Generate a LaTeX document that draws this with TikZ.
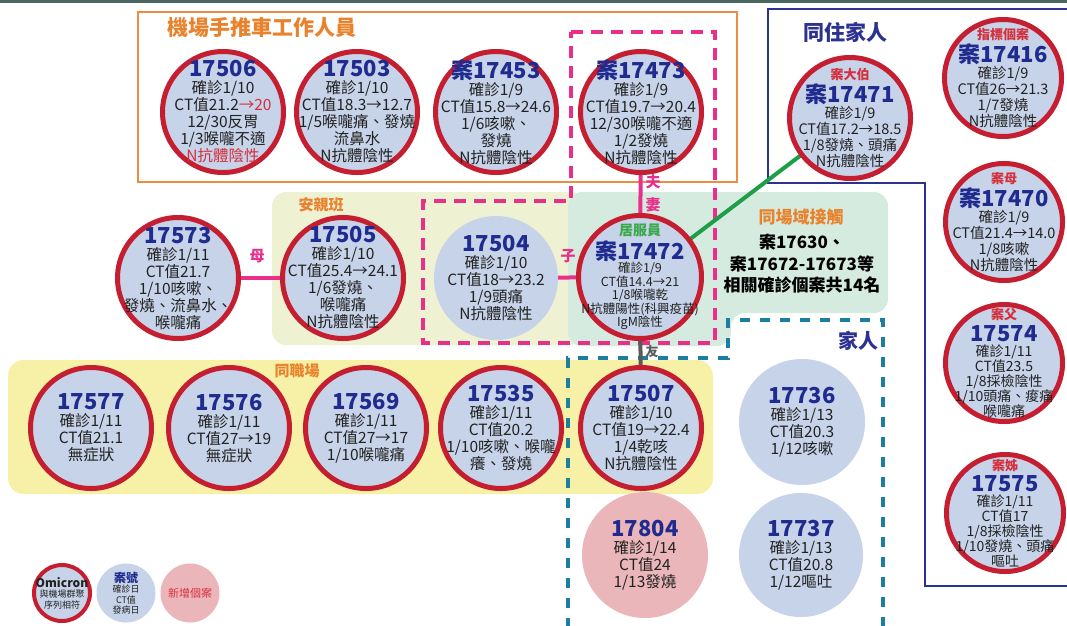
\documentclass[tikz,border=0pt]{standalone}
\usepackage{fontspec}
\setmainfont{Noto Sans CJK TC}
\definecolor{cfill}{HTML}{C6D3E8}
\definecolor{ringc}{HTML}{C41E30}
\definecolor{navyc}{HTML}{1F2B8F}
\definecolor{pinkc}{HTML}{EBB6BA}
\definecolor{redt}{HTML}{D62F3C}
\definecolor{orangec}{HTML}{E9822C}
\definecolor{obox}{HTML}{EC8E3F}
\definecolor{magc}{HTML}{E8308A}
\definecolor{tealc}{HTML}{1C7EA0}
\definecolor{nbox}{HTML}{2C3290}
\definecolor{greenc}{HTML}{1E9E48}
\definecolor{greent}{HTML}{3BA84B}
\definecolor{yelbox}{HTML}{F6F1A6}
\definecolor{ygbox}{HTML}{EEF2D3}
\definecolor{mintbox}{HTML}{D6EBDF}
\definecolor{topbar}{HTML}{4B6660}
\definecolor{grayc}{HTML}{5A5A5A}
\definecolor{txtc}{HTML}{222222}
\pgfdeclarelayer{bg}
\pgfdeclarelayer{mid}
\pgfsetlayers{bg,mid,main}
\newcommand\cnum[1]{{\fontsize{22}{22}\selectfont\bfseries\color{navyc}#1}}
\newcommand\ctag[1]{{\fontsize{13}{13}\selectfont\bfseries\color{redt}#1}}
\newcommand\cred[1]{{\color{redt}#1}}
\newcommand\casec[6]{\node[#1, minimum size=#4pt] (#2) at (#3) {}; \node[txt,#5] (#2t) at (#2.center) {#6};}
\begin{document}
\begin{tikzpicture}[x=1pt,y=-1pt,
  ring/.style={circle, draw=ringc, line width=5pt, fill=cfill, inner sep=0pt},
  ringsm/.style={circle, draw=ringc, line width=4pt, fill=cfill, inner sep=0pt},
  plainc/.style={circle, fill=cfill, inner sep=0pt},
  newc/.style={circle, fill=pinkc, inner sep=0pt},
  txt/.style={align=center, inner sep=0pt, text=txtc, font=\fontsize{15.5}{17}\selectfont},
  sixl/.style={font=\fontsize{14.5}{16}\selectfont},
  sevenl/.style={font=\fontsize{14}{15}\selectfont},
  boxtitle/.style={inner sep=0pt, font=\fontsize{21}{21}\selectfont\bfseries, text=orangec},
  subtitle/.style={inner sep=0pt, font=\fontsize{16}{16}\selectfont\bfseries, text=orangec},
  magdash/.style={draw=magc, line width=4pt, dash pattern=on 12pt off 8pt},
  tealdash/.style={draw=tealc, line width=4pt, dash pattern=on 10pt off 10pt},
  relabel/.style={inner sep=0pt, font=\fontsize{15}{15}\selectfont\bfseries, text=magc},
  legtxt/.style={align=center, inner sep=0pt, text=txtc, font=\fontsize{9}{10.5}\selectfont}]
\useasboundingbox (0,0) rectangle (1067,625);

% ---------- circles ----------
\casec{ring}{c17506}{223,112}{121}{}{\cnum{17506}\\確診1/10\\CT值21.2\cred{→20}\\12/30反胃\\1/3喉嚨不適\\\cred{N抗體陰性}}
\casec{ring}{c17503}{357,112}{121}{}{\cnum{17503}\\確診1/10\\CT值18.3→12.7\\1/5喉嚨痛、發燒\\流鼻水\\N抗體陰性}
\casec{ring}{c17453}{496,112}{121}{}{\cnum{案17453}\\確診1/9\\CT值15.8→24.6\\1/6咳嗽、\\發燒\\N抗體陰性}
\casec{ring}{c17473}{641,112}{121}{}{\cnum{案17473}\\確診1/9\\CT值19.7→20.4\\12/30喉嚨不適\\1/2發燒\\N抗體陰性}
\casec{ring}{c17471}{850,118}{121}{sixl}{\ctag{案大伯}\\[2pt]\cnum{案17471}\\確診1/9\\CT值17.2→18.5\\1/8發燒、頭痛\\N抗體陰性}
\casec{ring}{c17416}{1003,78}{117}{sixl}{\ctag{指標個案}\\[2pt]\cnum{案17416}\\確診1/9\\CT值26→21.3\\1/7發燒\\N抗體陰性}
\casec{ring}{c17470}{1004,222}{117}{sixl}{\ctag{案母}\\[2pt]\cnum{案17470}\\確診1/9\\CT值21.4→14.0\\1/8咳嗽\\N抗體陰性}
\casec{ring}{c17574}{1004,363}{117}{sevenl}{\ctag{案父}\\[3pt]\cnum{17574}\\確診1/11\\CT值23.5\\1/8採檢陰性\\1/10頭痛、痠痛\\喉嚨痛}
\casec{ring}{c17575}{1005,513}{117}{sevenl}{\ctag{案姊}\\[3pt]\cnum{17575}\\確診1/11\\CT值17\\1/8採檢陰性\\1/10發燒、頭痛\\嘔吐}
\casec{ring}{c17573}{178,278}{121}{}{\cnum{17573}\\確診1/11\\CT值21.7\\1/10咳嗽、\\發燒、流鼻水、\\喉嚨痛}
\casec{ring}{c17505}{343,278}{121}{}{\cnum{17505}\\確診1/10\\CT值25.4→24.1\\1/6發燒、\\喉嚨痛\\N抗體陰性}
\casec{plainc}{c17504}{496,278}{124}{}{\cnum{17504}\\確診1/10\\CT值18→23.2\\1/9頭痛\\N抗體陰性}
\casec{ring}{c17472}{640,277}{123}{font=\fontsize{12.5}{13.5}\selectfont}{{\fontsize{14}{14}\selectfont\bfseries\color{greent}居服員}\\[2pt]\cnum{案17472}\\確診1/9\\CT值14.4→21\\1/8喉嚨乾\\N抗體陽性(科興疫苗)\\IgM陰性}
\casec{ring}{c17577}{91,428}{121}{}{\cnum{17577}\\確診1/11\\CT值21.1\\無症狀}
\casec{ring}{c17576}{229,428}{121}{}{\cnum{17576}\\確診1/11\\CT值27→19\\無症狀}
\casec{ring}{c17569}{366,428}{121}{}{\cnum{17569}\\確診1/11\\CT值27→17\\1/10喉嚨痛}
\casec{ring}{c17535}{501,428}{121}{}{\cnum{17535}\\確診1/11\\CT值20.2\\1/10咳嗽、喉嚨\\癢、發燒}
\casec{ring}{c17507}{641,428}{121}{}{\cnum{17507}\\確診1/10\\CT值19→22.4\\1/4乾咳\\N抗體陰性}
\casec{plainc}{c17736}{802,422}{126}{}{\cnum{17736}\\確診1/13\\CT值20.3\\1/12咳嗽}
\casec{newc}{c17804}{645,555}{126}{}{\cnum{17804}\\確診1/14\\CT值24\\1/13發燒}
\casec{plainc}{c17737}{801,555}{124}{}{\cnum{17737}\\確診1/13\\CT值20.8\\1/12嘔吐}

% ---------- legend ----------
\node[ringsm, minimum size=56pt] (lg1) at (62,593) {};
\node[legtxt] (lg1t) at (lg1.center) {{\fontsize{12}{12}\selectfont\bfseries Omicron}\\與機場群聚\\序列相符};
\node[plainc, minimum size=59pt] (lg2) at (126,593) {};
\node[legtxt] (lg2t) at (lg2.center) {{\fontsize{12}{12}\selectfont\bfseries\color{navyc}案號}\\確診日\\CT值\\發病日};
\node[newc, minimum size=59pt] (lg3) at (190,593) {};
\node[legtxt, font=\fontsize{11}{11}\selectfont, text=redt] (lg3t) at (lg3.center) {新增個案};

% ---------- titles and labels ----------
\node[boxtitle] (t1) at (262,28) {機場手推車工作人員};
\node[boxtitle, text=nbox] (t2) at (845,32) {同住家人};
\node[subtitle, font=\fontsize{15}{15}\selectfont\bfseries] (t3) at (321,205) {安親班};
\node[subtitle, font=\fontsize{17}{17}\selectfont\bfseries] (t4) at (801,217) {同場域接觸};
\node[subtitle, font=\fontsize{15}{15}\selectfont\bfseries] (t5) at (297,371) {同職場};
\node[boxtitle, text=nbox, font=\fontsize{20}{20}\selectfont\bfseries] (t6) at (858,341) {家人};
\node[align=center, inner sep=0pt, text=black, font=\fontsize{17}{21.5}\selectfont\bfseries] (grp) at (802,264) {案17630、\\案17672-17673等\\相關確診個案共14名};
\node[relabel] (lfu) at (653,182) {夫};
\node[relabel] (lqi) at (653,205) {妻};
\node[relabel] (lmu) at (257,256) {母};
\node[relabel] (lzi) at (568,256) {子};
\node[relabel, text=grayc, font=\fontsize{13}{13}\selectfont\bfseries] (lyou) at (652,352) {友};

% ---------- background boxes ----------
\begin{pgfonlayer}{bg}
\fill[white] (0,0) rectangle (1067,625);
\fill[topbar] (0,0) rectangle (1067,3);
\fill[ygbox, rounded corners=14pt] (272,192) rectangle (585,345);
\fill[mintbox, rounded corners=14pt] (568,192) -- (888,192) -- (888,313) -- (731,313) -- (731,346) -- (568,346) -- cycle;
\fill[yelbox, rounded corners=16pt] (8,360) rectangle (713,494);
\draw[obox, line width=1.6pt] (138,12) rectangle (737,182);
\draw[nbox, line width=1.8pt] (1072,9) -- (768,9) -- (768,183) -- (925,183) -- (925,586) -- (1072,586);
\end{pgfonlayer}

% ---------- dashed groups and connectors ----------
\begin{pgfonlayer}{mid}
\draw[magdash] (571,32) -- (715,32) -- (715,343) -- (423,343) -- (423,201) -- (571,201) -- cycle;
\draw[tealdash] (568,628) -- (568,358) -- (728,358) -- (728,320) -- (883,320) -- (883,628);
\draw[magc, line width=4pt] (c17473.center) -- (c17472.center);
\draw[magc, line width=4pt] (c17573.center) -- (c17505.center);
\draw[magc, line width=4pt] (c17504.center) -- (c17472.center);
\draw[grayc, line width=4pt] (c17472.center) -- (c17507.center);
\draw[greenc, line width=4pt] (c17472.center) -- (c17471.center);
\end{pgfonlayer}
\end{tikzpicture}
\end{document}
